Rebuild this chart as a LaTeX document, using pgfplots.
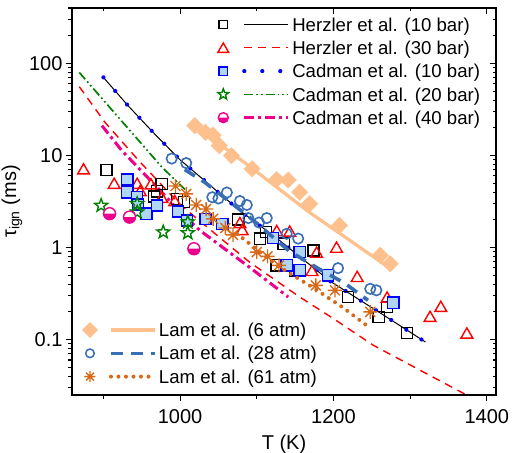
\documentclass[border=0pt]{standalone}
\usepackage{fontspec}
\setmainfont{Liberation Sans}
\usepackage{pgfplots}
\pgfplotsset{compat=1.18}

\definecolor{cfill}{RGB}{175,215,245}
\definecolor{cgreen}{RGB}{0,128,0}
\definecolor{lorange}{RGB}{254,192,140}
\definecolor{lblue}{RGB}{55,110,180}
\definecolor{dorange}{RGB}{215,105,25}

% open five-pointed star
\pgfdeclareplotmark{ostar}{%
  \pgfpathmoveto{\pgfpointpolar{90}{\pgfplotmarksize}}%
  \pgfpathlineto{\pgfpointpolar{126}{0.42*\pgfplotmarksize}}%
  \pgfpathlineto{\pgfpointpolar{162}{\pgfplotmarksize}}%
  \pgfpathlineto{\pgfpointpolar{198}{0.42*\pgfplotmarksize}}%
  \pgfpathlineto{\pgfpointpolar{234}{\pgfplotmarksize}}%
  \pgfpathlineto{\pgfpointpolar{270}{0.42*\pgfplotmarksize}}%
  \pgfpathlineto{\pgfpointpolar{306}{\pgfplotmarksize}}%
  \pgfpathlineto{\pgfpointpolar{342}{0.42*\pgfplotmarksize}}%
  \pgfpathlineto{\pgfpointpolar{18}{\pgfplotmarksize}}%
  \pgfpathlineto{\pgfpointpolar{54}{0.42*\pgfplotmarksize}}%
  \pgfpathclose
  \pgfusepathqstroke}
% circle, lower half filled
\pgfdeclareplotmark{halfcirc}{%
  \begin{pgfscope}\pgfsetfillcolor{white}%
  \pgfpathcircle{\pgfpointorigin}{\pgfplotmarksize}\pgfusepathqfill\end{pgfscope}%
  \pgfpathmoveto{\pgfqpoint{-\pgfplotmarksize}{0pt}}%
  \pgfpatharc{180}{360}{\pgfplotmarksize}%
  \pgfpathclose\pgfusepathqfill
  \pgfpathcircle{\pgfpointorigin}{\pgfplotmarksize}\pgfusepathqstroke}
% eight-armed asterisk
\pgfdeclareplotmark{ast8}{%
  \pgfpathmoveto{\pgfqpoint{-\pgfplotmarksize}{0pt}}\pgfpathlineto{\pgfqpoint{\pgfplotmarksize}{0pt}}%
  \pgfpathmoveto{\pgfqpoint{0pt}{-\pgfplotmarksize}}\pgfpathlineto{\pgfqpoint{0pt}{\pgfplotmarksize}}%
  \pgfpathmoveto{\pgfpointpolar{45}{\pgfplotmarksize}}\pgfpathlineto{\pgfpointpolar{225}{\pgfplotmarksize}}%
  \pgfpathmoveto{\pgfpointpolar{135}{\pgfplotmarksize}}\pgfpathlineto{\pgfpointpolar{315}{\pgfplotmarksize}}%
  \pgfusepathqstroke}

\tikzset{
  hAline/.style={draw=black, line width=1pt},
  hBline/.style={draw=red, line width=1.4pt, dash pattern=on 8pt off 6pt},
  cAline/.style={draw=blue, line width=4.2pt, line cap=round, dash pattern=on 0pt off 18pt},
  cBline/.style={draw=cgreen, line width=1.7pt, dash pattern=on 9pt off 3pt on 1.7pt off 3pt on 1.7pt off 3pt},
  cCline/.style={draw=magenta, line width=3pt, dash pattern=on 10pt off 4pt on 3pt off 4pt},
  lAline/.style={draw=lorange, line width=3.2pt},
  lBline/.style={draw=lblue, line width=3.6pt, dash pattern=on 12pt off 8pt},
  lCline/.style={draw=dorange, line width=4pt, line cap=round, dash pattern=on 0pt off 7.5pt},
}
% legend sample: fixed cell box, line piece, then the marker at the origin
\newcommand\legsample[4]{\path[draw=none,fill=none] (-9pt,-11.65pt) rectangle (69pt,11.65pt);
  \draw[#1] (21pt,0pt) -- (65pt,0pt);
  \begin{scope}[#2]\pgfsetplotmarksize{#3}\pgfuseplotmark{#4}\end{scope}}

\begin{document}
\begin{tikzpicture}[font=\fontsize{20}{24}\selectfont]
\path[use as bounding box] (-72pt,-58pt) rectangle (440pt,395pt);
\begin{axis}[
  scale only axis, width=424pt, height=387pt,
  xmin=859, xmax=1412, ymode=log, ymin=0.025, ymax=400,
  axis line style={line width=1.2pt},
  every tick/.style={black, line width=1.1pt},
  major tick length=6pt, minor tick length=3.5pt,
  xtick={1000,1200,1400}, minor xtick={900,1100,1300},
  log ticks with fixed point,
  /pgf/number format/1000 sep={},
  /pgf/number format/assume math mode=true,
  tick label style={font=\fontsize{20}{24}\selectfont},
  xticklabel style={yshift=-5pt},
  xlabel style={yshift=-4pt},
  tick align=outside, xtick pos=left, ytick pos=left,
  xlabel={T (K)}, ylabel={τ\textsubscript{ign} (ms)},
  legend cell align=left,
  legend style={at={(0.3356,0.9875)}, anchor=north west, draw=none, fill=none,
    inner sep=0pt, outer sep=0pt, row sep=0pt, column sep=0pt,
    font=\fontsize{18.6}{22}\selectfont,
    nodes={inner sep=0pt, text height=13.3pt, text depth=0pt}},
]
% fitted lines
\addplot[hAline, forget plot] coordinates {(900,70.5)(932,34.8)(966,17.4)(1000,8.96)(1038,4.83)(1076,2.59)(1130,1.19)(1196,0.429)(1235,0.267)(1278,0.158)(1320,0.094)};
\addplot[hBline, forget plot] coordinates {(868.5,55.9)(902,22.9)(946,8.81)(1000,2.93)(1039,1.57)(1091,0.689)(1156,0.290)(1200,0.169)(1252,0.0867)(1374,0.0249)};
\addplot[cAline, forget plot] coordinates {(900,70.5)(932,34.8)(966,17.4)(1000,8.96)(1038,4.83)(1076,2.59)(1130,1.19)(1196,0.429)(1235,0.267)(1278,0.158)(1320,0.094)};
\addplot[cBline, forget plot] coordinates {(868.5,79.8)(921.6,24.8)(976.4,7.45)(1006.4,4.27)};
\addplot[cCline, forget plot] coordinates {(898,21.1)(924,11.3)(974,4.16)(1000,2.42)(1026,1.53)(1093,0.589)(1141,0.290)};
% measurements
\addplot[only marks, mark=square, mark size=5.6pt, black, line width=1.4pt,
  legend image code/.code={\legsample{hAline}{black,line width=1.3pt}{4.2pt}{square}}]
  coordinates {(904,6.98)(976,4.92)(970,4.09)(966,3.58)(996,3.38)(1005,3.11)(1076,2.02)(1104,1.25)(1112,1.47)(1135,1.10)(1174,0.930)(1126,0.640)(1150,0.565)(1219,0.290)(1259,0.176)(1270,0.226)(1296,0.118)};
\addlegendentry{Herzler et al. (10 bar)}
\addplot[only marks, mark=triangle, mark size=6.8pt, red, line width=1.4pt, mark options={yshift=-1.7pt},
  legend image code/.code={\legsample{hBline}{red,line width=1.4pt,yshift=-1.5pt}{6.3pt}{triangle}}]
  coordinates {(874,7.16)(914,4.99)(944,4.99)(962,4.92)(948,4.16)(976,3.52)(993,3.24)(1078,1.87)(1081,1.57)(1126,1.53)(1143,1.51)(1178,0.891)(1204,1.01)(1172,0.565)(1231,0.486)(1270,0.290)(1326,0.179)(1340,0.230)(1374,0.118)};
\addlegendentry{Herzler et al. (30 bar)}
\addplot[only marks, mark=square*, mark size=5.6pt, line width=1.4pt, mark options={draw=blue, fill=cfill},
  legend image code/.code={\legsample{cAline}{draw=blue,fill=cfill,line width=1.3pt}{4.2pt}{square*}}]
  coordinates {(931,5.48)(931,3.99)(944,3.52)(945,2.93)(956,2.33)(970,2.86)(997,2.46)(1009,1.97)(1033,2.05)(1055,1.81)(1121,1.27)(1156,0.891)(1139,0.640)(1156,0.565)(1193,0.498)(1278,0.251)};
\addlegendentry{Cadman et al. (10 bar)}
\addplot[only marks, mark=ostar, mark size=6.8pt, cgreen, line width=1.4pt,
  legend image code/.code={\legsample{cBline}{cgreen,line width=1.4pt}{5.6pt}{ostar}}]
  coordinates {(897,2.86)(944,2.99)(944,2.42)(978,1.47)(1010,1.89)(1010,1.44)};
\addlegendentry{Cadman et al. (20 bar)}
\addplot[only marks, mark=halfcirc, mark size=6pt, line width=1.4pt, mark options={draw=magenta, fill=magenta},
  legend image code/.code={\legsample{cCline}{draw=magenta,fill=magenta,line width=1.4pt}{5pt}{halfcirc}}]
  coordinates {(908,2.33)(934,2.14)(1018,0.970)};
\addlegendentry{Cadman et al. (40 bar)}
\end{axis}

\begin{axis}[
  scale only axis, width=424pt, height=387pt,
  xmin=859, xmax=1412, ymode=log, ymin=0.025, ymax=400,
  axis line style={line width=1.2pt},
  every tick/.style={black, line width=1.1pt},
  major tick length=6pt, minor tick length=3.5pt,
  xtick={1000,1200,1400}, minor xtick={900,1100,1300},
  tick align=inside, xtick pos=right, ytick pos=right,
  xticklabels={}, yticklabels={},
  legend cell align=left,
  legend style={at={(0.0212,0.198)}, anchor=north west, draw=none, fill=none,
    inner sep=0pt, outer sep=0pt, row sep=0pt, column sep=0pt,
    font=\fontsize{18.6}{22}\selectfont,
    nodes={inner sep=0pt, text height=13.3pt, text depth=0pt}},
]
\addplot[lAline, forget plot] coordinates {(1019,21.1)(1091,7.58)(1169,2.40)(1274,0.593)};
\addplot[lBline, forget plot] coordinates {(1006,7.03)(1032,5.12)(1091,2.12)(1143,0.907)(1180,0.593)(1215,0.408)(1245,0.267)};
\addplot[lCline, forget plot] coordinates {(1074,1.42)(1126,0.640)(1173,0.369)(1212,0.224)(1245,0.139)};
\addplot[only marks, mark=square*, mark size=5.8pt, mark options={rotate=45, draw=lorange, fill=lorange},
  legend image code/.code={\legsample{lAline}{rotate=45,draw=lorange,fill=lorange}{5.4pt}{square*}}]
  coordinates {(1019,21.1)(1033,17.9)(1043,16.6)(1051,12.8)(1067,9.98)(1094,7.16)(1126,5.48)(1141,5.41)(1156,3.99)(1169,2.99)(1208,1.74)(1261,0.821)(1274,0.667)};
\addlegendentry{Lam et al. (6 atm)}
\addplot[only marks, mark=o, mark size=5.2pt, lblue, line width=1.6pt,
  legend image code/.code={\legsample{lBline}{lblue,line width=1.5pt}{4.3pt}{o}}]
  coordinates {(989,9.25)(1008,8.27)(1042,3.52)(1050,3.41)(1061,3.96)(1078,3.20)(1087,2.90)(1089,2.09)(1103,1.87)(1113,2.09)(1139,1.41)(1154,1.25)(1206,0.597)(1248,0.356)(1256,0.343)};
\addlegendentry{Lam et al. (28 atm)}
\addplot[only marks, mark=ast8, mark size=7pt, dorange, line width=1.4pt,
  legend image code/.code={\legsample{lCline}{dorange,line width=1.4pt}{5.5pt}{ast8}}]
  coordinates {(994,4.66)(1008,3.83)(1021,2.90)(1034,2.62)(1043,2.05)(1059,1.63)(1069,1.37)(1100,0.891)(1114,0.801)(1129,0.640)(1177,0.388)(1202,0.343)(1248,0.200)};
\addlegendentry{Lam et al. (61 atm)}
\end{axis}
\end{tikzpicture}
\end{document}
